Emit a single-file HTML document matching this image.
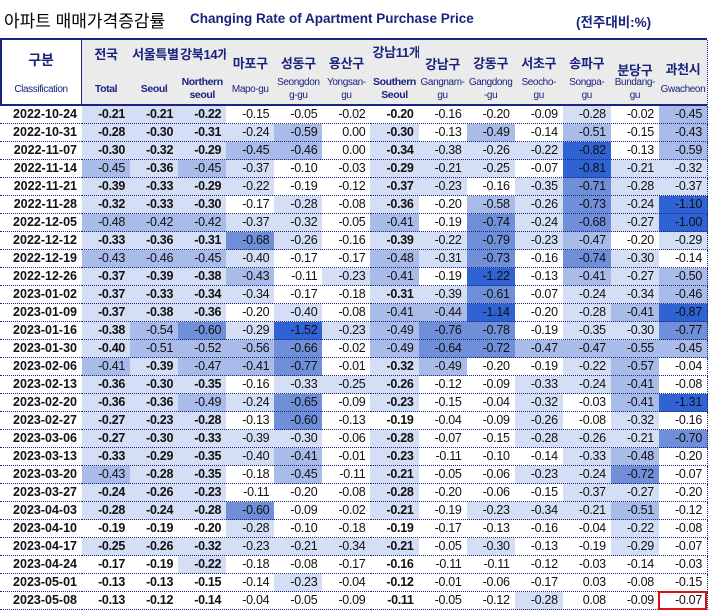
<!DOCTYPE html>
<html><head><meta charset="utf-8">
<style>
body{margin:0;width:709px;height:613px;background:#fff;position:relative;overflow:hidden;font-family:"Liberation Sans","Noto Sans CJK KR",sans-serif;}
.a{position:absolute;white-space:nowrap;}
.hc{position:absolute;top:40px;height:65px;background:#ebebeb;overflow:hidden;border-right:1px dotted #1a237e;box-sizing:border-box;color:#1a237e;}
.ko{position:absolute;left:0;right:0;text-align:center;font-weight:bold;font-size:13px;letter-spacing:-0.3px;white-space:nowrap;}
.en{position:absolute;left:0;right:0;text-align:center;font-size:10px;line-height:13px;letter-spacing:-0.4px;white-space:nowrap;}
.cell{position:absolute;height:18px;box-sizing:border-box;border-right:1px dotted #1a237e;border-bottom:1px dotted #1a237e;font-size:12.5px;line-height:17px;text-align:right;padding-right:5px;color:#111;letter-spacing:-0.3px;}
.dt{position:absolute;height:18px;width:82px;box-sizing:border-box;border-bottom:1px dotted #1a237e;font-size:12.5px;font-weight:bold;line-height:17px;text-align:right;padding-right:5px;color:#111;}
</style></head><body>
<div class="a" style="left:4px;top:7px;font-size:17px;color:#000;">아파트 매매가격증감률</div>
<div class="a" style="left:190px;top:11px;font-size:13.5px;font-weight:bold;color:#1a237e;">Changing Rate of Apartment Purchase Price</div>
<div class="a" style="left:576px;top:11px;font-size:13.5px;font-weight:bold;color:#1a237e;">(전주대비:%)</div>
<div id="tbl"></div>
<script>
const dates=["2022-10-24","2022-10-31","2022-11-07","2022-11-14","2022-11-21","2022-11-28","2022-12-05","2022-12-12","2022-12-19","2022-12-26","2023-01-02","2023-01-09","2023-01-16","2023-01-30","2023-02-06","2023-02-13","2023-02-20","2023-02-27","2023-03-06","2023-03-13","2023-03-20","2023-03-27","2023-04-03","2023-04-10","2023-04-17","2023-04-24","2023-05-01","2023-05-08"];
const total=[-0.21,-0.28,-0.30,-0.45,-0.39,-0.32,-0.48,-0.33,-0.43,-0.37,-0.37,-0.37,-0.38,-0.40,-0.41,-0.36,-0.36,-0.27,-0.27,-0.33,-0.43,-0.24,-0.28,-0.19,-0.25,-0.17,-0.13,-0.13];
const seoul=[-0.21,-0.30,-0.32,-0.36,-0.33,-0.33,-0.42,-0.36,-0.46,-0.39,-0.33,-0.38,-0.54,-0.51,-0.39,-0.30,-0.36,-0.23,-0.30,-0.29,-0.28,-0.26,-0.24,-0.19,-0.26,-0.19,-0.13,-0.12];
const northern=[-0.22,-0.31,-0.29,-0.45,-0.29,-0.30,-0.42,-0.31,-0.45,-0.38,-0.34,-0.36,-0.60,-0.52,-0.47,-0.35,-0.49,-0.28,-0.33,-0.35,-0.35,-0.23,-0.28,-0.20,-0.32,-0.22,-0.15,-0.14];
const mapo=[-0.15,-0.24,-0.45,-0.37,-0.22,-0.17,-0.37,-0.68,-0.40,-0.43,-0.34,-0.20,-0.29,-0.56,-0.41,-0.16,-0.24,-0.13,-0.39,-0.40,-0.18,-0.11,-0.60,-0.28,-0.23,-0.18,-0.14,-0.04];
const seongdong=[-0.05,-0.59,-0.46,-0.10,-0.19,-0.28,-0.32,-0.26,-0.17,-0.11,-0.17,-0.40,-1.52,-0.66,-0.77,-0.33,-0.65,-0.60,-0.30,-0.41,-0.45,-0.20,-0.09,-0.10,-0.21,-0.08,-0.23,-0.05];
const yongsan=[-0.02,0.00,0.00,-0.03,-0.12,-0.08,-0.05,-0.16,-0.17,-0.23,-0.18,-0.08,-0.23,-0.02,-0.01,-0.25,-0.09,-0.13,-0.06,-0.01,-0.11,-0.08,-0.02,-0.18,-0.34,-0.17,-0.04,-0.09];
const southern=[-0.20,-0.30,-0.34,-0.29,-0.37,-0.36,-0.41,-0.39,-0.48,-0.41,-0.31,-0.41,-0.49,-0.49,-0.32,-0.26,-0.23,-0.19,-0.28,-0.23,-0.21,-0.28,-0.21,-0.19,-0.21,-0.16,-0.12,-0.11];
const gangnam=[-0.16,-0.13,-0.38,-0.21,-0.23,-0.20,-0.19,-0.22,-0.31,-0.19,-0.39,-0.44,-0.76,-0.64,-0.49,-0.12,-0.15,-0.04,-0.07,-0.11,-0.05,-0.20,-0.19,-0.17,-0.05,-0.11,-0.01,-0.05];
const gangdong=[-0.20,-0.49,-0.26,-0.25,-0.16,-0.58,-0.74,-0.79,-0.73,-1.22,-0.61,-1.14,-0.78,-0.72,-0.20,-0.09,-0.04,-0.09,-0.15,-0.10,-0.06,-0.06,-0.23,-0.13,-0.30,-0.11,-0.06,-0.12];
const seocho=[-0.09,-0.14,-0.22,-0.07,-0.35,-0.26,-0.24,-0.23,-0.16,-0.13,-0.07,-0.20,-0.19,-0.47,-0.19,-0.33,-0.32,-0.26,-0.28,-0.14,-0.23,-0.15,-0.34,-0.16,-0.13,-0.12,-0.17,-0.28];
const songpa=[-0.28,-0.51,-0.82,-0.81,-0.71,-0.73,-0.68,-0.47,-0.74,-0.41,-0.24,-0.28,-0.35,-0.47,-0.22,-0.24,-0.03,-0.08,-0.26,-0.33,-0.24,-0.37,-0.21,-0.04,-0.19,-0.03,0.03,0.08];
const bundang=[-0.02,-0.15,-0.13,-0.21,-0.28,-0.24,-0.27,-0.20,-0.30,-0.27,-0.34,-0.41,-0.30,-0.55,-0.57,-0.41,-0.41,-0.32,-0.21,-0.48,-0.72,-0.27,-0.51,-0.22,-0.29,-0.14,-0.08,-0.09];
const gwacheon=[-0.45,-0.43,-0.59,-0.32,-0.37,-1.10,-1.00,-0.29,-0.14,-0.50,-0.46,-0.87,-0.77,-0.45,-0.04,-0.08,-1.31,-0.16,-0.70,-0.20,-0.07,-0.20,-0.12,-0.08,-0.07,-0.03,-0.15,-0.07];
const koLabels=["전국","서울특별시","강북14개구","마포구","성동구","용산구","강남11개구","강남구","강동구","서초구","송파구","분당구","과천시"];
const enLabels=["Total","Seoul","Northern<br>seoul","Mapo-gu","Seongdon<br>g-gu","Yongsan-<br>gu","Southern<br>Seoul","Gangnam-<br>gu","Gangdong<br>-gu","Seocho-<br>gu","Songpa-<br>gu","Bundang-<br>gu","Gwacheon"];
const series=[total,seoul,northern,mapo,seongdong,yongsan,southern,gangnam,gangdong,seocho,songpa,bundang,gwacheon];
const keys=["total","seoul","northern","mapo","seongdong","yongsan","southern","gangnam","gangdong","seocho","songpa","bundang","gwacheon"];

const T=document.getElementById('tbl');
const X0=82, CW=(707-82)/13, Y0=106, RH=18;
const colX=i=>X0+i*CW;
const rowY=r=>Y0+r*RH;
const boldCols=[0,1,2,6];
const koTop=[4,4,4,13,13,13,2,14,13,13,13,20,19];
const enTwo=[2,4,5,6,7,8,9,10,11];
function color(v){
  if(v<=-0.8) return '#2f63d3';
  if(v<=-0.6) return '#6f8fd8';
  if(v<-0.4) return '#a9bbe8';
  if(v<-0.2) return '#d4def4';
  return '#ffffff';
}
function add(cls,name,inter,style,html){
  const d=document.createElement('div');
  d.className=cls;
  
  
  d.style.cssText=style;
  if(html!==undefined) d.innerHTML=html;
  T.appendChild(d);
  return d;
}
const h0=add('hc','header-classification','false','left:0;width:82px;background:#fff;border-right:none;');
h0.innerHTML='<div class="ko" style="top:10px;font-size:14px;">구분</div><div class="en" style="top:43px;">Classification</div>';
for(let i=0;i<13;i++){
  const h=add('hc','header-'+keys[i],'false','left:'+colX(i)+'px;width:'+(CW+1)+'px;');
  const ko=document.createElement('div');
  ko.className='ko';
  
  
  ko.style.top=koTop[i]+'px';
  if(koLabels[i].length>4){ko.style.textAlign='left';ko.style.left='2px';ko.style.right='auto';}
  ko.textContent=koLabels[i];
  h.appendChild(ko);
  const en=document.createElement('div');
  en.className='en';
  
  
  const two=enTwo.includes(i);
  en.style.top=(two?36:43)+'px';
  if(boldCols.includes(i)){en.style.fontWeight='bold';en.style.fontSize='10.5px';}
  en.innerHTML=enLabels[i];
  h.appendChild(en);
}
add('a','header-top-border','false','left:0;top:38px;width:707px;height:2px;background:#1a237e;');
add('a','header-bottom-border','false','left:0;top:104px;width:707px;height:2px;background:#1a237e;');
add('a','table-left-border','false','left:0;top:38px;width:2px;height:68px;background:#1a237e;');
add('a','classification-divider','false','left:81px;top:38px;width:1px;height:68px;background:#1a237e;');
for(let r=0;r<dates.length;r++){
  add('dt','date-'+dates[r],'false','left:0;top:'+rowY(r)+'px;',dates[r]);
  for(let i=0;i<13;i++){
    const v=series[i][r];
    const bold=boldCols.includes(i)&&v>=-0.4;
    add('cell','cell-'+keys[i]+'-'+dates[r],'false','left:'+colX(i)+'px;top:'+rowY(r)+'px;width:'+(CW+1)+'px;background:'+color(v)+';'+(bold?'font-weight:bold;':''),v.toFixed(2));
  }
}
const last=dates.length-1;
add('a','highlight-box','false','left:'+(colX(12)-1)+'px;top:'+(rowY(last)-1)+'px;width:'+(CW+1)+'px;height:'+(RH+1)+'px;border:2px solid #e01010;box-sizing:border-box;');
</script>
</body></html>
